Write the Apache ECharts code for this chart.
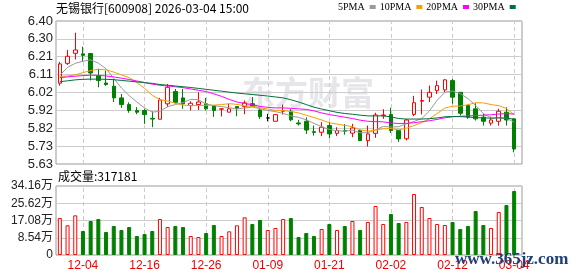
<!DOCTYPE html>
<html><head><meta charset="utf-8">
<script src="https://cdn.jsdelivr.net/npm/echarts@6/dist/echarts.min.js"></script>
<style>html,body{margin:0;padding:0;background:#fff}#c{width:578px;height:276px}</style>
</head><body><div id="c"></div>
<script>
// ---- data ----
const stockTitle = '无锡银行[600908] 2026-03-04 15:00';
const dates = ['12-01','12-02','12-03','12-04','12-05','12-08','12-09','12-10','12-11','12-12',
  '12-15','12-16','12-17','12-18','12-19','12-22','12-23','12-24','12-25','12-26',
  '12-29','12-30','12-31','01-05','01-06','01-07','01-08','01-09','01-12','01-13',
  '01-14','01-15','01-16','01-19','01-20','01-21','01-22','01-23','01-26','01-27',
  '01-28','01-29','01-30','02-02','02-03','02-04','02-05','02-06','02-09','02-10',
  '02-11','02-12','02-13','02-24','02-25','02-26','02-27','03-02','03-03','03-04'];
const opens = [6.065,6.172,6.226,6.223,6.225,6.106,6.066,6.049,5.986,5.950,
  5.918,5.918,5.876,5.871,5.954,6.020,5.986,5.945,5.950,5.954,
  5.945,5.925,5.909,5.939,5.939,5.955,5.921,5.878,5.860,5.914,
  5.914,5.851,5.860,5.804,5.801,5.837,5.795,5.810,5.796,5.810,
  5.756,5.795,5.890,5.896,5.810,5.766,5.897,5.968,5.990,6.025,
  6.029,6.079,6.016,5.945,5.927,5.882,5.850,5.860,5.909,5.873];
const closes = [6.169,6.210,6.244,6.215,6.120,6.079,6.058,5.986,5.950,5.918,
  5.909,5.896,5.872,5.975,6.043,5.962,5.954,5.957,5.964,5.927,
  5.918,5.927,5.927,5.930,5.959,5.940,5.885,5.878,5.896,5.918,
  5.868,5.846,5.813,5.800,5.828,5.792,5.810,5.807,5.824,5.756,
  5.792,5.894,5.894,5.810,5.765,5.867,5.960,5.972,6.016,6.052,
  6.083,5.990,5.903,5.882,5.873,5.860,5.867,5.914,5.867,5.711];
const lows = [6.052,6.163,6.193,6.182,6.080,6.043,6.051,5.964,5.932,5.906,
  5.898,5.846,5.828,5.871,5.936,5.955,5.927,5.918,5.921,5.918,
  5.884,5.886,5.909,5.887,5.898,5.940,5.873,5.860,5.860,5.896,
  5.860,5.837,5.792,5.783,5.780,5.768,5.780,5.788,5.774,5.754,
  5.724,5.771,5.873,5.797,5.749,5.757,5.888,5.897,5.963,6.007,
  6.016,5.954,5.891,5.873,5.864,5.837,5.837,5.837,5.837,5.693];
const highs = [6.180,6.244,6.337,6.262,6.228,6.142,6.133,6.088,6.007,5.962,
  5.936,5.927,5.913,5.986,6.061,6.034,6.034,5.968,6.016,5.986,
  5.945,5.929,5.954,5.939,5.972,5.990,5.927,5.900,5.896,5.950,
  5.927,5.868,5.881,5.837,5.855,5.855,5.828,5.845,5.846,5.815,
  5.837,5.906,5.925,5.933,5.810,5.873,5.997,6.031,6.052,6.079,
  6.088,6.088,6.016,5.950,5.957,5.903,5.885,5.927,5.935,5.873];
const volumes = [183200,146900,196400,118800,168300,178200,113900,143600,123800,138600,
  94100,104000,118800,178200,138600,143600,138600,94100,89100,108900,
  148500,94100,117200,146900,186500,153500,173300,123800,133700,178200,
  183200,89100,108900,94100,128700,153500,123800,143600,168300,123800,
  163400,242600,153500,203000,158400,163400,302000,237600,183200,153500,
  148500,163400,128700,143600,217800,148500,133700,212900,247500,317181];
const volumeUp = [1,1,1,0,0,0,0,0,0,0, 0,0,0,1,1,0,0,1,1,0, 0,1,1,1,1,0,0,1,1,1,
  0,0,0,0,1,0,1,0,1,0, 1,1,1,0,0,1,1,1,1,1, 1,0,0,0,0,0,1,1,0,0];
const ma5 = [6.108,6.150,6.172,6.183,6.191,6.173,6.143,6.091,6.039,5.998,
  5.964,5.932,5.909,5.914,5.939,5.950,5.961,5.978,5.976,5.953,
  5.944,5.939,5.933,5.926,5.932,5.937,5.928,5.918,5.912,5.903,
  5.889,5.881,5.868,5.849,5.831,5.816,5.809,5.807,5.812,5.798,
  5.798,5.815,5.832,5.829,5.831,5.846,5.859,5.875,5.916,5.973,
  6.016,6.023,6.009,5.982,5.946,5.902,5.877,5.879,5.876,5.855];
const ma10 = [6.100,6.104,6.110,6.122,6.133,6.140,6.137,6.125,6.110,6.095,
  6.069,6.037,6.000,5.976,5.969,5.957,5.947,5.944,5.945,5.946,
  5.947,5.950,5.955,5.951,5.943,5.940,5.933,5.926,5.919,5.918,
  5.913,5.905,5.893,5.880,5.867,5.852,5.845,5.838,5.831,5.814,
  5.807,5.812,5.820,5.821,5.814,5.822,5.837,5.853,5.873,5.902,
  5.931,5.941,5.942,5.949,5.960,5.959,5.950,5.944,5.929,5.895];
const ma20 = [6.095,6.099,6.103,6.106,6.108,6.107,6.104,6.099,6.092,6.085,
  6.077,6.069,6.060,6.054,6.050,6.046,6.041,6.034,6.027,6.020,
  6.008,5.994,5.978,5.964,5.956,5.949,5.940,5.935,5.932,5.932,
  5.930,5.927,5.924,5.916,5.905,5.896,5.889,5.882,5.875,5.866,
  5.860,5.858,5.857,5.851,5.848,5.849,5.852,5.858,5.863,5.870,
  5.879,5.884,5.887,5.889,5.891,5.893,5.895,5.899,5.901,5.899];
const ma30 = [6.073,6.078,6.083,6.086,6.087,6.087,6.086,6.084,6.080,6.076,
  6.072,6.068,6.064,6.058,6.054,6.050,6.046,6.042,6.037,6.032,
  6.027,6.022,6.017,6.012,6.008,6.004,6.000,5.996,5.991,5.986,
  5.976,5.964,5.950,5.936,5.926,5.917,5.908,5.902,5.898,5.893,
  5.889,5.889,5.889,5.884,5.875,5.872,5.872,5.872,5.874,5.878,
  5.884,5.886,5.885,5.883,5.880,5.878,5.877,5.878,5.877,5.871];
const maNames = ['5PMA','10PMA','20PMA','30PMA'];
const priceMin = 5.63, priceMax = 6.40, priceSteps = 8;
const volMax = 341600, volSteps = 4;
const dateLabelStart = 3, dateLabelStep = 8;

// ---- styles ----
const RED = '#ff0000', GREEN = '#008000';
const maColors = ['#999999', '#f5a000', '#ff00ff', '#00703a'];
const FRAME = '#9a9a9a', GRID = '#cccccc';
const L = 56, W_FRAME = 466, W_DATA = 462;

const showDate = i => i >= dateLabelStart && (i - dateLabelStart) % dateLabelStep === 0;
const markDates = dates.filter((d, i) => showDate(i));
const vLines = {
  silent: true, symbol: ['none', 'none'], z: 1, animation: false,
  label: { show: false }, emphasis: { disabled: true },
  lineStyle: { color: GRID, type: [4, 3], width: 1 },
  data: markDates.map(d => ({ xAxis: d }))
};

const chart = echarts.init(document.getElementById('c'), null, { renderer: 'canvas' });
const hidden = { show: false };
chart.setOption({
  animation: false,
  backgroundColor: '#fff',
  legend: {
    data: maNames, left: 338, top: 2, padding: 0, icon: 'rect',
    itemWidth: 6, itemHeight: 4, align: 'right', itemGap: 4, selectedMode: false,
    textStyle: { fontFamily: 'Liberation Serif', fontSize: 10, color: '#000' }
  },
  grid: [
    { left: L, top: 21, width: W_FRAME, height: 143, show: true, borderColor: FRAME, borderWidth: 1, backgroundColor: 'transparent' },
    { left: L, top: 21, width: W_DATA, height: 143 },
    { left: L, top: 186, width: W_FRAME, height: 69, show: true, borderColor: FRAME, borderWidth: 1, backgroundColor: 'transparent' },
    { left: L, top: 186, width: W_DATA, height: 69 }
  ],
  xAxis: [
    { gridIndex: 0, type: 'value', min: 0, max: 1, show: false },
    { gridIndex: 1, type: 'category', data: dates, boundaryGap: true,
      axisLine: hidden, axisTick: hidden, axisLabel: hidden, splitLine: hidden },
    { gridIndex: 2, type: 'value', min: 0, max: 1, show: false },
    { gridIndex: 3, type: 'category', data: dates, boundaryGap: true,
      axisLine: hidden, axisTick: hidden, splitLine: hidden,
      axisLabel: { show: true, interval: (i) => showDate(i), color: '#f00000', fontSize: 12,
        fontFamily: 'Liberation Sans', margin: 5 } }
  ],
  yAxis: [
    { gridIndex: 0, type: 'value', min: priceMin, max: priceMax, interval: (priceMax - priceMin) / priceSteps,
      axisLine: hidden, axisTick: hidden,
      splitLine: { show: true, lineStyle: { color: GRID, width: 1 } },
      axisLabel: { margin: 3, fontSize: 13, fontFamily: 'Liberation Sans', color: '#222',
        formatter: v => (Math.round(v * 100 + 1e-6) / 100).toFixed(2) } },
    { gridIndex: 1, type: 'value', min: priceMin, max: priceMax, show: false, splitLine: hidden },
    { gridIndex: 2, type: 'value', min: 0, max: volMax, interval: volMax / volSteps,
      axisLine: hidden, axisTick: hidden,
      splitLine: { show: true, lineStyle: { color: GRID, width: 1 } },
      axisLabel: { margin: 3, fontSize: 12, fontFamily: 'Liberation Sans, Noto Sans CJK SC', color: '#222',
        formatter: v => v === 0 ? '0' : (v / 10000).toFixed(2) + '万' } },
    { gridIndex: 3, type: 'value', min: 0, max: volMax, show: false, splitLine: hidden }
  ],
  graphic: [
    { type: 'text', left: 56, top: 2, z: 10, silent: true,
      style: { text: stockTitle, fill: '#000', font: '12px "Noto Sans CJK SC"' } },
    { type: 'text', left: 58, top: 170, z: 10, silent: true,
      style: { text: '成交量:' + volumes[volumes.length - 1], fill: '#000', font: '12px "Noto Sans CJK SC"' } },
    { type: 'text', left: 242, top: 76, z: 0, silent: true,
      style: { text: '东方财富', fill: '#e6e6ea', font: 'bold 33px "Noto Sans CJK SC"' } },
    { type: 'text', left: 455, top: 251, z: 20, silent: true,
      style: { text: 'www.365jz.com', fill: '#1f3f78', font: 'bold 17px "Liberation Serif"' } }
  ],
  series: [
    { type: 'candlestick', xAxisIndex: 1, yAxisIndex: 1, barWidth: 4, z: 2,
      emphasis: { disabled: true },
      itemStyle: { color: '#fff', color0: GREEN, borderColor: RED, borderColor0: GREEN, borderColorDoji: '#000', borderWidth: 1 },
      data: dates.map((d, i) => {
        const item = { value: [opens[i], closes[i], lows[i], highs[i]] };
        if (opens[i] === closes[i]) item.itemStyle = { color: '#000', color0: '#000', borderColor: '#000', borderColor0: '#000', borderColorDoji: '#000' };
        return item;
      }),
      markLine: vLines },
    ...[ma5, ma10, ma20, ma30].map((arr, k) => ({
      type: 'line', name: maNames[k], xAxisIndex: 1, yAxisIndex: 1, data: arr, z: 3,
      symbol: 'none', showSymbol: false, silent: true,
      lineStyle: { color: maColors[k], width: 1 }, itemStyle: { color: maColors[k] }
    })),
    { type: 'bar', xAxisIndex: 3, yAxisIndex: 3, barWidth: 4, z: 2, emphasis: { disabled: true },
      data: volumes.map((v, i) => ({ value: v, itemStyle: volumeUp[i]
        ? { color: '#fff', borderColor: RED, borderWidth: 1 }
        : { color: GREEN, borderColor: GREEN, borderWidth: 1 } })),
      markLine: vLines }
  ]
});
</script></body></html>
